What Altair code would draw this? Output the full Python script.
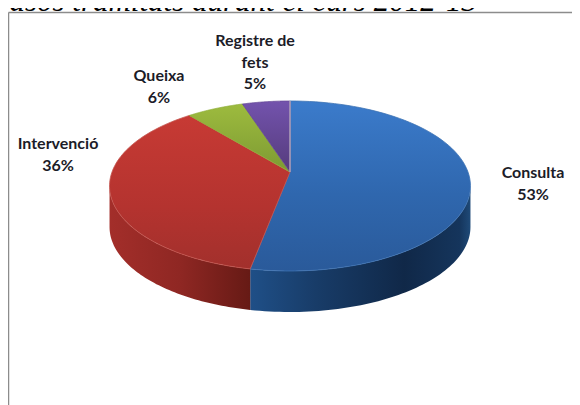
import numpy as np
import pandas as pd
import altair as alt

categories = ["Consulta", "Intervenció", "Queixa", "Registre de fets"]
values = [53, 36, 6, 5]
label_lines = [["Consulta"], ["Intervenció"], ["Queixa"], ["Registre de", "fets"]]
title_text = "Casos tramitats durant el curs 2012-13"

W, H = 564, 397
OX, OY = 8, 8
CX, CY = 290, 172
B, A, P = 178.0, 82.7, 0.1646
DEPTH = 41


def lg(stops, horizontal=False):
    return alt.LinearGradient(
        gradient="linear",
        x1=0, y1=0, x2=1 if horizontal else 0, y2=0 if horizontal else 1,
        stops=[alt.GradientStop(offset=o, color=c) for o, c in stops],
    )


face_fill = {
    "Consulta": lg([(0, "#3b7bcb"), (0.55, "#2f67ae"), (1, "#2a5a9a")]),
    "Intervenció": lg([(0, "#c73a34"), (0.6, "#b4332f"), (1, "#a2302c")]),
    "Queixa": lg([(0, "#9dbb3e"), (1, "#7d9a33")]),
    "Registre de fets": lg([(0, "#7353ad"), (1, "#553b7c")]),
}
face_edge = {"Consulta": "#3c72b4", "Intervenció": "#c4544e", "Queixa": "#8fae3a", "Registre de fets": "#664a96"}
wall_blue = lg([(0, "#1f4f87"), (0.3, "#183c68"), (0.7, "#102848"), (0.95, "#15355c"), (1, "#1f4a78")], True)
wall_red = lg([(0, "#a32e2a"), (0.5, "#8f2723"), (1, "#661a15")], True)


def pt(theta, dy=0.0):
    w = 1 + P * np.cos(theta)
    return CX + B * np.sin(theta) / w - OX, CY - A * np.cos(theta) / w + dy - OY


def poly(xy):
    return pd.DataFrame({"x": [p[0] for p in xy], "y": [p[1] for p in xy], "i": range(len(xy))})


xs = alt.Scale(domain=[0, W], range=[0, W], nice=False, zero=False)
ys = alt.Scale(domain=[0, H], range=[0, H], nice=False, zero=False)


def shape(df, **mark):
    return alt.Chart(df).mark_line(interpolate="linear-closed", **mark).encode(
        x=alt.X("x:Q", scale=xs, axis=None),
        y=alt.Y("y:Q", scale=ys, axis=None),
        order="i:Q",
    )


shares = np.array(values) / sum(values)
edges = np.concatenate([[0], np.cumsum(shares)]) * 2 * np.pi
layers = []

# side wall
right = np.arccos(-P)
left = 2 * np.pi - right
seam = edges[1]
for a, b, fill in [(right, seam, wall_blue), (seam, left, wall_red)]:
    ts = np.linspace(a, b, 70)
    ring = [pt(t) for t in ts] + [pt(t, DEPTH) for t in ts[::-1]]
    layers.append(shape(poly(ring), fill=fill, stroke=None, strokeWidth=0))

# top face
for k, cat in enumerate(categories):
    ts = np.linspace(edges[k], edges[k + 1], 80)
    ring = [(CX - OX, CY - OY)] + [pt(t) for t in ts]
    layers.append(shape(poly(ring), fill=face_fill[cat], stroke=face_edge[cat], strokeWidth=0.8))

# lit seam between the first and last slices
layers.append(
    alt.Chart(poly([(CX - OX, CY - OY), pt(0.0)])).mark_line(color="#b6a8bc", strokeWidth=1.4).encode(
        x=alt.X("x:Q", scale=xs, axis=None), y=alt.Y("y:Q", scale=ys, axis=None), order="i:Q"
    )
)

# labels
label_pos = [(533, 173), (58, 144), (159, 76), (255, 41)]
labels = pd.DataFrame({
    "t": ["\n".join(l + [f"{v}%"]) for l, v in zip(label_lines, values)],
    "px": [p[0] - OX for p in label_pos],
    "py": [p[1] - OY for p in label_pos],
})
for _, r in labels.iterrows():
    layers.append(
        alt.Chart(pd.DataFrame({"t": [r.t]})).mark_text(
            font="Lato", fontWeight="bold", fontSize=16, color="#1c1c28",
            lineBreak="\n", lineHeight=21.5, align="center", baseline="middle",
        ).encode(text="t:N", x=alt.value(float(r.px)), y=alt.value(float(r.py)))
    )

# frame
layers.append(alt.Chart(pd.DataFrame({"a": [0]})).mark_rule(color="#8c8c8c", strokeWidth=1.5).encode(
    x=alt.value(0.5), x2=alt.value(W), y=alt.value(4.5)))
layers.append(alt.Chart(pd.DataFrame({"a": [0]})).mark_rule(color="#8c8c8c", strokeWidth=1.5).encode(
    x=alt.value(0.5), y=alt.value(4.5), y2=alt.value(H)))

# title, cut by the top of the page as in the reference
layers.append(alt.Chart(pd.DataFrame({"t": [title_text]})).mark_text(
    font="Liberation Serif", fontStyle="italic", fontSize=31, color="#000000",
    align="right", baseline="alphabetic",
).encode(text="t:N", x=alt.value(469), y=alt.value(3)))

chart = alt.layer(*layers).properties(
    width=W, height=H, padding=0, autosize=alt.AutoSizeParams(type="none"), background="white",
).configure_view(stroke=None)

chart.save("out.html", embed_options={"renderer": "svg", "actions": False})
